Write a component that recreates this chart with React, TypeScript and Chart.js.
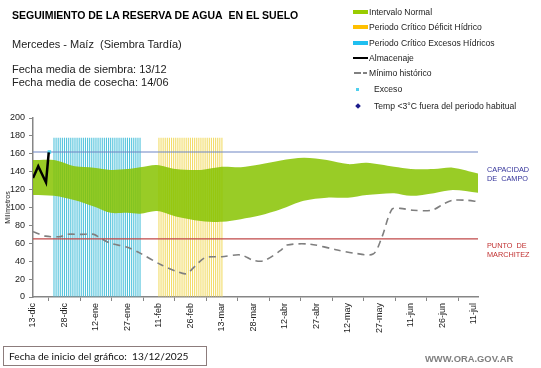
import React, { useEffect, useRef } from 'react';
import { Chart, registerables } from 'chart.js';

Chart.register(...registerables);

// ---- data ----
const tickDays = [0, 15, 30, 45, 60, 75, 90, 105, 120, 135, 150, 165, 180, 195, 210];
const tickLabels = ['13-dic', '28-dic', '12-ene', '27-ene', '11-feb', '26-feb', '13-mar', '28-mar', '12-abr', '27-abr', '12-may', '27-may', '11-jun', '26-jun', '11-jul'];
const yTicks = [0, 20, 40, 60, 80, 100, 120, 140, 160, 180, 200];

const bandDays = [0, 10, 20, 29, 37, 45, 51, 59, 68, 80, 90, 99, 108, 118, 129, 140, 150, 159, 172, 180, 191, 200, 212];
const bandUpper = [153, 153, 146, 144.5, 142, 143, 145, 147.5, 143, 142, 145.5, 145, 148, 152.5, 155.5, 153, 148.5, 150, 145.5, 143, 143, 144.5, 138];
const bandLower = [114, 113, 108, 101, 94, 94, 93, 96, 90, 85, 84, 87, 91, 98, 107.5, 111, 111, 114, 116, 113, 116, 119.5, 116.5];

const minDays = [0, 6, 13, 16, 23, 29, 32, 37, 45, 51, 61, 68, 73, 77, 82, 90, 99, 105, 110, 118, 121, 132, 145, 153, 162, 166, 171, 175, 181, 190, 196, 200, 207, 212];
const minValues = [73, 68, 67.5, 70, 70, 70, 66, 60, 55.5, 49, 36, 29, 26, 34, 44, 45, 47, 41, 40.5, 52, 58, 59, 52.5, 49, 48, 65.5, 98, 99, 97, 97, 104.5, 108, 108, 106.5];

const storeDays = [0, 2.5, 6.2, 7.5];
const storeValues = [133, 146, 128, 161.5];

const excessDays = [7.8];
const excessValues = [162];

const capacidadCampo = 162;
const puntoMarchitez = 65;
const lineDays = [0, 212];

const periodTop = 178;
const cyanDays = [10, 11, 12, 13, 14, 15, 16, 17, 18, 19, 20, 21, 22, 23, 24, 25, 26, 27, 28, 29, 30, 31, 32, 33, 34, 35, 36, 37, 38, 39, 40, 41, 42, 43, 44, 45, 46, 47, 48, 49, 50, 51];
const yellowDays = [60, 61, 62, 63, 64, 65, 66, 67, 68, 69, 70, 71, 72, 73, 74, 75, 76, 77, 78, 79, 80, 81, 82, 83, 84, 85, 86, 87, 88, 89, 90];

const pts = (xs: number[], ys: number[]) => xs.map((x, i) => ({ x, y: ys[i] }));

const AR = '"Liberation Sans", Arial, sans-serif';

export default function App() {
  const ref = useRef<HTMLCanvasElement | null>(null);

  useEffect(() => {
    const ctx = ref.current!.getContext('2d')!;
    const chart = new Chart(ctx, {
      type: 'line',
      data: {
        datasets: [
          {
            type: 'line',
            order: 0,
            data: pts(storeDays, storeValues),
            borderColor: '#000000',
            borderWidth: 2.5,
            pointRadius: 0,
            tension: 0,
            fill: false,
          },
          {
            type: 'line',
            order: 0,
            data: pts(excessDays, excessValues),
            showLine: false,
            pointStyle: 'rect',
            pointRadius: 2.5,
            pointBackgroundColor: '#4fd0ee',
            pointBorderColor: '#4fd0ee',
            pointBorderWidth: 0,
          },
          {
            type: 'line',
            order: 1,
            data: pts(lineDays, [capacidadCampo, capacidadCampo]),
            borderColor: '#6f86c4',
            borderWidth: 1.2,
            pointRadius: 0,
            fill: false,
          },
          {
            type: 'line',
            order: 1,
            data: pts(lineDays, [puntoMarchitez, puntoMarchitez]),
            borderColor: '#c04848',
            borderWidth: 1.2,
            pointRadius: 0,
            fill: false,
          },
          {
            type: 'line',
            order: 2,
            data: pts(minDays, minValues),
            borderColor: '#7f7f7f',
            borderWidth: 1.6,
            borderDash: [7, 5],
            pointRadius: 0,
            tension: 0.3,
            fill: false,
          },
          {
            type: 'line',
            order: 5,
            data: pts(bandDays, bandUpper),
            borderWidth: 0,
            borderColor: 'rgba(0,0,0,0)',
            pointRadius: 0,
            tension: 0.3,
            fill: '+1',
            backgroundColor: 'rgba(135,195,0,0.85)',
          },
          {
            type: 'line',
            order: 6,
            data: pts(bandDays, bandLower),
            borderWidth: 0,
            borderColor: 'rgba(0,0,0,0)',
            pointRadius: 0,
            tension: 0.3,
            fill: false,
          },
          {
            type: 'bar',
            order: 10,
            data: cyanDays.map((d) => ({ x: d, y: periodTop })),
            backgroundColor: '#52c3dc',
            barThickness: 1.1,
            inflateAmount: 0,
            borderWidth: 0,
            grouped: false,
          } as any,
          {
            type: 'bar',
            order: 10,
            data: yellowDays.map((d) => ({ x: d, y: periodTop })),
            backgroundColor: '#f2dc6a',
            barThickness: 1.1,
            inflateAmount: 0,
            borderWidth: 0,
            grouped: false,
          } as any,
        ],
      },
      options: {
        animation: false,
        responsive: false,
        maintainAspectRatio: false,
        layout: { padding: { left: 0, right: 63, top: 118, bottom: 0 } },
        plugins: { legend: { display: false }, tooltip: { enabled: false } },
        scales: {
          x: {
            type: 'linear',
            min: 0,
            max: 212,
            offset: false,
            afterBuildTicks: (s: any) => {
              s.ticks = tickDays.map((v) => ({ value: v }));
            },
            afterFit: (s: any) => {
              s.height = 71;
            },
            ticks: {
              autoSkip: false,
              maxRotation: 90,
              minRotation: 90,
              padding: 2,
              color: '#222',
              font: { family: AR, size: 9 },
              callback: (v: any) => {
                const i = tickDays.indexOf(Number(v));
                return i >= 0 ? tickLabels[i] : '';
              },
            },
            grid: { display: true, drawOnChartArea: false, drawTicks: true, tickLength: 4, color: '#868686' },
            border: { color: '#868686', width: 1.5 },
          },
          y: {
            type: 'linear',
            min: 0,
            max: 200,
            afterBuildTicks: (s: any) => {
              s.ticks = yTicks.map((v) => ({ value: v }));
            },
            afterFit: (s: any) => {
              s.width = 33;
            },
            ticks: {
              padding: 4,
              color: '#222',
              font: { family: AR, size: 9 },
            },
            grid: { display: true, drawOnChartArea: false, drawTicks: true, tickLength: 4, color: '#868686' },
            border: { color: '#868686', width: 1.5 },
            title: {
              display: true,
              text: 'Milímetros',
              color: '#222',
              font: { family: AR, size: 7 },
              padding: { top: 4, bottom: 0 },
            },
          },
        },
      } as any,
    });
    return () => chart.destroy();
  }, []);

  const txt = (s: React.CSSProperties): React.CSSProperties => ({
    position: 'absolute',
    whiteSpace: 'nowrap',
    fontFamily: AR,
    color: '#111',
    ...s,
  });

  const legendRows: { label: string; y: number; kind: string; tx: number }[] = [
    { label: 'Intervalo Normal', y: 12, kind: 'green', tx: 369 },
    { label: 'Periodo Crítico Déficit Hídrico', y: 27, kind: 'yellow', tx: 369 },
    { label: 'Periodo Crítico Excesos Hídricos', y: 43, kind: 'cyan', tx: 369 },
    { label: 'Almacenaje', y: 58, kind: 'black', tx: 369 },
    { label: 'Mínimo histórico', y: 73, kind: 'dash', tx: 369 },
    { label: 'Exceso', y: 89, kind: 'dot', tx: 374 },
    { label: 'Temp <3°C fuera del periodo habitual', y: 106, kind: 'diamond', tx: 374 },
  ];

  const swatch = (kind: string, y: number) => {
    const base: React.CSSProperties = { position: 'absolute' };
    switch (kind) {
      case 'green':
        return <div style={{ ...base, left: 353, top: y - 2, width: 15, height: 4, background: '#99cc00' }} />;
      case 'yellow':
        return <div style={{ ...base, left: 353, top: y - 2, width: 15, height: 4, background: '#ffc000' }} />;
      case 'cyan':
        return <div style={{ ...base, left: 353, top: y - 2, width: 15, height: 4, background: '#1fbff0' }} />;
      case 'black':
        return <div style={{ ...base, left: 353, top: y - 1, width: 15, height: 2, background: '#000' }} />;
      case 'dash':
        return (
          <>
            <div style={{ ...base, left: 354, top: y - 1, width: 7, height: 1.5, background: '#808080' }} />
            <div style={{ ...base, left: 363, top: y - 1, width: 4, height: 1.5, background: '#808080' }} />
          </>
        );
      case 'dot':
        return <div style={{ ...base, left: 356, top: y - 1.5, width: 3, height: 3, background: '#4fd0ee' }} />;
      case 'diamond':
        return <div style={{ ...base, left: 356, top: y - 2, width: 4, height: 4, background: '#1c1c8c', transform: 'rotate(45deg)' }} />;
    }
    return null;
  };

  return (
    <div style={{ position: 'absolute', left: 0, top: 0, width: 541, height: 368, background: '#fff', overflow: 'hidden' }}>
      <canvas ref={ref} width={541} height={368} style={{ position: 'absolute', left: 0, top: 0, width: 541, height: 368 }} />
      <div style={txt({ left: 12, top: 9, fontSize: 10.5, lineHeight: '13px', fontWeight: 'bold', color: '#000' })}>
        SEGUIMIENTO DE LA RESERVA DE AGUA&nbsp; EN EL SUELO
      </div>
      <div style={txt({ left: 12, top: 37, fontSize: 11, lineHeight: '14px', color: '#222' })}>Mercedes - Maíz&nbsp; (Siembra Tardía)</div>
      <div style={txt({ left: 12, top: 63, fontSize: 11, lineHeight: '13px', color: '#222' })}>Fecha media de siembra: 13/12</div>
      <div style={txt({ left: 12, top: 75.5, fontSize: 11, lineHeight: '13px', color: '#222' })}>Fecha media de cosecha: 14/06</div>

      {legendRows.map((r) => (
        <React.Fragment key={r.label}>
          {swatch(r.kind, r.y)}
          <div style={txt({ left: r.tx, top: r.y - 6, fontSize: 8.6, lineHeight: '12px', color: '#222' })}>{r.label}</div>
        </React.Fragment>
      ))}

      <div style={txt({ left: 487, top: 165, fontSize: 7.3, lineHeight: '9px', color: '#33339a' })}>
        CAPACIDAD
        <br />
        DE&nbsp; CAMPO
      </div>
      <div style={txt({ left: 487, top: 241, fontSize: 7.3, lineHeight: '9px', color: '#c03030' })}>
        PUNTO&nbsp; DE
        <br />
        MARCHITEZ
      </div>

      <div style={{ position: 'absolute', left: 3, top: 346, width: 204, height: 20, border: '1px solid #8c7c7c', boxSizing: 'border-box' }} />
      <div style={txt({ left: 9, top: 349, fontSize: 10.2, lineHeight: '14px', fontFamily: 'Lato, "Open Sans", sans-serif', color: '#111' })}>
        Fecha de inicio del gráfico:&nbsp; 13/12/2025
      </div>
      <div style={txt({ left: 425, top: 353, fontSize: 9.4, lineHeight: '12px', fontWeight: 'bold', color: '#7f7f7f' })}>WWW.ORA.GOV.AR</div>
    </div>
  );
}
